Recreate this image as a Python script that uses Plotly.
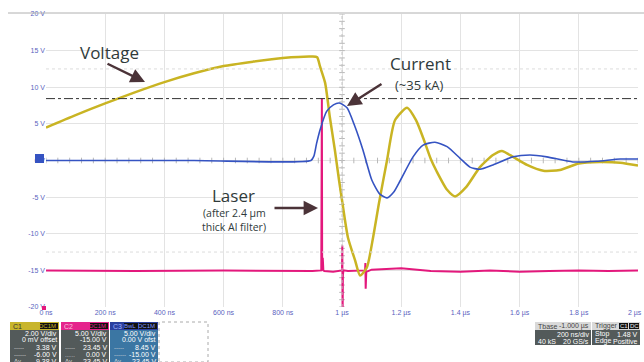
import numpy as np
import plotly.graph_objects as go

# ---------------- data ----------------
# time in microseconds, values in volts (screen scale 5 V/div)
volt_t = [0, 0.1, 0.2, 0.3, 0.4, 0.5, 0.6, 0.7, 0.8, 0.9, 0.916, 0.926, 0.943, 0.959, 0.976,
          0.99, 1.0, 1.02, 1.044, 1.061, 1.084, 1.105, 1.125, 1.152, 1.179, 1.22, 1.25, 1.275,
          1.30, 1.32, 1.355, 1.382, 1.42, 1.466, 1.51, 1.54, 1.578, 1.625, 1.68, 1.736, 1.80,
          1.87, 1.94, 2.0]
volt_v = [4.5, 6.2, 7.8, 9.3, 10.7, 11.9, 12.9, 13.5, 14.0, 14.2, 14.1, 12.8, 10.6, 5.9, 1.4,
          -2.7, -5.4, -10.5, -13.6, -15.7, -14.6, -10.5, -5.8, 0.0, 5.5, 7.2, 5.5, 3.0,
          0.2, -1.5, -4.0, -4.9, -3.6, -0.9, 0.75, 1.3, 0.5, -0.6, -1.4, -1.3, -0.4,
          -0.2, -0.3, -0.7]

curr_t = [0, 0.5, 0.895, 0.905, 0.914, 0.926, 0.948, 0.971, 0.991, 1.017, 1.044, 1.071, 1.101,
          1.128, 1.152, 1.175, 1.196, 1.24, 1.274, 1.314, 1.355, 1.399, 1.432, 1.466, 1.51,
          1.578, 1.635, 1.692, 1.78, 1.86, 1.94, 2.0]
curr_v = [0.0, 0.0, 0.0, 0.6, 2.3, 4.2, 6.7, 7.6, 7.85, 7.2, 4.6, 1.4, -2.7,
          -4.6, -5.1, -4.3, -2.8, 0.5, 2.1, 2.5, 1.9, 0.3, -0.9, -1.2, -0.6,
          0.5, 0.75, 0.5, -0.2, -0.1, 0.2, 0.2]

laser_t = [0, 0.3, 0.6, 0.9, 0.930, 0.931, 0.932, 0.933, 0.935, 0.937, 0.94, 0.97, 1.000,
           1.001, 1.002, 1.003, 1.005, 1.02, 1.078, 1.079, 1.080, 1.082, 1.10, 1.2, 1.3,
           1.4, 1.5, 1.6, 1.7, 1.8, 1.9, 2.0]
laser_v = [-15.0, -15.1, -15.0, -15.1, -15.0, 8.5, 8.5, -15.0, -13.3, -15.0, -15.1, -15.2, -15.0,
           -11.6, -21.5, -15.6, -15.0, -15.1, -15.0, -14.0, -17.5, -15.2, -14.9, -14.7, -15.1,
           -15.2, -15.0, -15.2, -15.1, -15.0, -15.1, -15.0]

cursor_level = 8.45
x_tick_vals = [0, 0.2, 0.4, 0.6, 0.8, 1.0, 1.2, 1.4, 1.6, 1.8, 2.0]
x_tick_text = ["0 ns", "200 ns", "400 ns", "600 ns", "800 ns", "1 µs", "1.2 µs", "1.4 µs",
               "1.6 µs", "1.8 µs", "2 µs"]
y_tick_vals = [-20, -15, -10, -5, 0, 5, 10, 15, 20]
y_tick_text = ["-20 V", "-15 V", "-10 V", "-5 V", "0 V", "5 V", "10 V", "15 V", "20 V"]

# ---------------- layout geometry (pixels) ----------------
W, H = 644, 362
PL, PR, PT, PB = 46, 638, 14, 307


def fx(px):
    return (px - PL) / (PR - PL)


def fy(py):
    return (PB - py) / (PB - PT)


YEL = "#c9b423"
BLU = "#3553c2"
MAG = "#e3187c"
TXT = "#2f3a3a"
ARR = "#4b3338"
TICKC = "#5a5fc0"

fig = go.Figure()

# centre crosshair minor ticks (decoration)
mt = np.arange(0, 2.0001, 0.04)
fig.add_trace(go.Scatter(x=mt, y=[0] * len(mt), mode="markers",
                         marker=dict(symbol="line-ns-open", size=4, color="#b8b8b8",
                                     line=dict(width=1, color="#b8b8b8")),
                         hoverinfo="skip", showlegend=False))
mv = np.arange(-20, 20.001, 1)
fig.add_trace(go.Scatter(x=[1.0] * len(mv), y=mv, mode="markers",
                         marker=dict(symbol="line-ew-open", size=4, color="#b8b8b8",
                                     line=dict(width=1, color="#b8b8b8")),
                         hoverinfo="skip", showlegend=False))

fig.add_trace(go.Scatter(x=laser_t, y=laser_v, mode="lines",
                         line=dict(color=MAG, width=2), showlegend=False))
fig.add_trace(go.Scatter(x=volt_t, y=volt_v, mode="lines",
                         line=dict(color=YEL, width=2.5, shape="spline", smoothing=0.6),
                         showlegend=False))
fig.add_trace(go.Scatter(x=curr_t, y=curr_v, mode="lines",
                         line=dict(color=BLU, width=1.6, shape="spline", smoothing=0.6),
                         showlegend=False))

shapes = []
annotations = []

# cursor line and dotted guides
shapes.append(dict(type="line", xref="x", yref="y", x0=0, x1=2, y0=cursor_level, y1=cursor_level,
                   line=dict(color="#333333", width=1, dash="dashdot")))
for lvl in (12.5, -12.5):
    shapes.append(dict(type="line", xref="x", yref="y", x0=0, x1=2, y0=lvl, y1=lvl,
                       line=dict(color="#dcdcdc", width=1, dash="dot")))
shapes.append(dict(type="line", xref="x", yref="y", x0=1, x1=1, y0=-20, y1=20,
                   line=dict(color="#c4c4c4", width=1, dash="dot")))
# top border line
shapes.append(dict(type="line", xref="paper", yref="paper", x0=fx(8), x1=fx(644), y0=fy(13), y1=fy(13),
                   line=dict(color="#b0b0b0", width=1)))
# channel 3 ground marker
shapes.append(dict(type="rect", xref="paper", yref="paper", x0=fx(35), x1=fx(44), y0=fy(163), y1=fy(154),
                   fillcolor=BLU, line=dict(width=0)))
# channel 2 marker at bottom-left
shapes.append(dict(type="rect", xref="paper", yref="paper", x0=fx(42), x1=fx(46), y0=fy(310), y1=fy(306),
                   fillcolor=MAG, line=dict(width=0)))


def rect(x0, y0, x1, y1, color, line=None):
    d = dict(type="rect", xref="paper", yref="paper", x0=fx(x0), x1=fx(x1), y0=fy(y1), y1=fy(y0),
             fillcolor=color, line=dict(width=0))
    if line:
        d["line"] = line
    shapes.append(d)


def txt(x, y, s, size=7, color="white", anchor="right", family="Liberation Sans"):
    annotations.append(dict(xref="paper", yref="paper", x=fx(x), y=fy(y), text=s, showarrow=False,
                            xanchor=anchor, yanchor="middle", borderpad=0,
                            font=dict(size=size, color=color, family=family)))


# last x tick label drawn as text so it is not hidden at the page edge
shown_tick_text = x_tick_text[:-1] + [""]
annotations.append(dict(xref="x", yref="paper", x=x_tick_vals[-1], y=fy(307), text=x_tick_text[-1],
                        showarrow=False, xanchor="right", xshift=5, yanchor="top", yshift=-1,
                        borderpad=0, font=dict(size=7, color=TICKC, family="Liberation Sans")))

# ---------------- channel boxes ----------------
GRAY_BODY = "#535a5a"
chan = [
    (10, 59, "#c8b52c", "C1", "#333333", ["DC1M"], YEL, GRAY_BODY,
     ["2.00 V/div", "0 mV offset", "3.38 V", "-6.00 V", "9.38 V"], ["", "", "-----", "------", "Δy"]),
    (61, 109, "#e5248c", "C2", "#f8c0dc", ["DC1M"], "#e5248c", GRAY_BODY,
     ["5.00 V/div", "-15.00 V", "23.45 V", "0.00 V", "23.45 V"], ["", "", "-----", "......", "Δy"]),
    (110, 158, "#2b3f9e", "C3", "#9fb0ff", ["BwL", "DC1M"], "#7f96ff", "#3b76a3",
     ["5.00 V/div", "0.00 V ofst", "8.45 V", "-15.00 V", "23.45 V"], ["", "", "-----", "------", "Δy"]),
]
rows_y = [333, 340, 347.5, 354.5, 361]
for x0, x1, hc, name, namec, badges, badgec, bodyc, rows, lefts in chan:
    rect(x0, 322, x1, 330, hc)
    rect(x0, 330, x1, 362, bodyc)
    txt(x0 + 2, 326, name, size=7, color=namec, anchor="left")
    bx = x1 - 1
    for b in reversed(badges):
        bw = 4 * len(b) + 2
        rect(bx - bw, 323, bx, 329, "#111111")
        txt(bx - 1, 326, b, size=6, color=badgec, anchor="right")
        bx -= bw + 1
    for ry, r, lt in zip(rows_y, rows, lefts):
        txt(x1 - 1, ry, r, size=7, color="white", anchor="right")
        if lt:
            txt(x0 + 3, ry, lt, size=6, color="#dddddd", anchor="left")

rect(159, 322, 208, 362, "rgba(0,0,0,0)", line=dict(color="#aaaaaa", width=1, dash="dot"))

# timebase box
rect(535, 322, 591, 330, "#d9d9d9")
rect(535, 330, 591, 345, GRAY_BODY)
txt(537, 326, "Tbase", size=7, color="#444444", anchor="left")
txt(590, 326, "-1.000 µs", size=7, color="#444444", anchor="right")
txt(590, 334, "200 ns/div", size=7, color="white", anchor="right")
txt(537, 341, "40 kS", size=7, color="white", anchor="left")
txt(590, 341, "20 GS/s", size=7, color="white", anchor="right")
# trigger box
rect(592, 322, 640, 330, "#d9d9d9")
rect(592, 330, 640, 345, GRAY_BODY)
txt(594, 326, "Trigger", size=7, color="#444444", anchor="left")
rect(619, 323, 628, 329, "#111111")
txt(623.5, 326, "C1", size=6, color="#eeeeee", anchor="center")
rect(629, 323, 639, 329, "#111111")
txt(634, 326, "DC", size=6, color="#eeeeee", anchor="center")
txt(594, 334, "Stop", size=7, color="white", anchor="left")
txt(639, 334, "1.48 V", size=7, color="white", anchor="right")
txt(594, 341, "Edge", size=7, color="white", anchor="left")
txt(639, 341, "Positive", size=7, color="white", anchor="right")

# ---------------- labels and arrows ----------------
FONT = "Open Sans"
txt(109, 53, "Voltage", size=17, color=TXT, anchor="center", family=FONT)
txt(420, 64, "Current", size=17, color=TXT, anchor="center", family=FONT)
txt(419, 85, "(~35 kA)", size=13, color=TXT, anchor="center", family=FONT)
txt(233, 195.5, "Laser", size=17, color=TXT, anchor="center", family=FONT)
txt(234, 213, "(after 2.4 µm", size=10.5, color=TXT, anchor="center", family=FONT)
txt(234, 227, "thick Al filter)", size=10.5, color=TXT, anchor="center", family=FONT)


def arrow(tip_px, tail_px):
    annotations.append(dict(xref="paper", yref="paper", x=fx(tip_px[0]), y=fy(tip_px[1]),
                            ax=tail_px[0] - tip_px[0], ay=tail_px[1] - tip_px[1],
                            axref="pixel", ayref="pixel", text="", showarrow=True,
                            arrowhead=2, arrowsize=1.2, arrowwidth=2.4, arrowcolor=ARR))


arrow((145, 82), (106, 63))
arrow((347, 106), (383, 83))
arrow((318, 208), (273, 208))

fig.update_layout(
    width=W, height=H,
    margin=dict(l=PL, r=W - PR, t=PT, b=H - PB, pad=0, autoexpand=False),
    paper_bgcolor="white", plot_bgcolor="white",
    shapes=shapes, annotations=annotations,
    showlegend=False,
    xaxis=dict(range=[0, 2], tickvals=x_tick_vals, ticktext=shown_tick_text, showgrid=True,
               gridcolor="#e3e3e3", gridwidth=1, zeroline=False, showline=False, ticks="",
               tickfont=dict(size=7, color=TICKC, family="Liberation Sans"), fixedrange=True),
    yaxis=dict(range=[-20, 20], tickvals=y_tick_vals, ticktext=y_tick_text, showgrid=True,
               gridcolor="#e3e3e3", gridwidth=1, zeroline=False, showline=False, ticks="",
               tickfont=dict(size=7, color=TICKC, family="Liberation Sans"), fixedrange=True),
)

fig.write_html("out.html", config={"displayModeBar": False},
               post_script="document.body.style.margin='0';document.body.style.overflow='hidden';")
